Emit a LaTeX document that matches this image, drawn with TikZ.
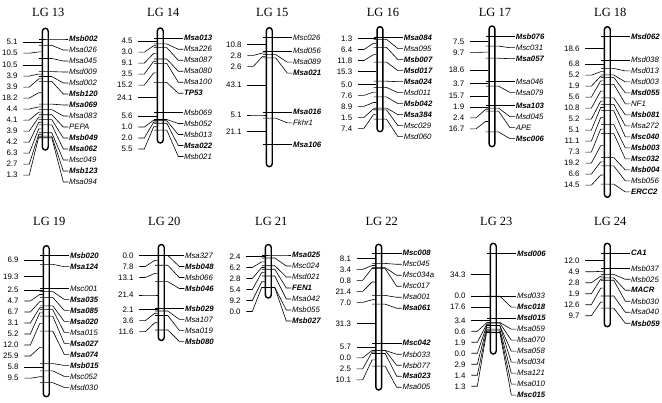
\documentclass[tikz,border=0pt]{standalone}
\usepackage{fontspec}
\setmainfont{Liberation Serif}
\newfontfamily\lsans{Liberation Sans}
\tikzset{
  chrom/.style={draw=black, line width=1.4pt, fill=white, rounded corners=2.9pt},
  conn/.style={line width=0.6pt, black},
  mk/.style={font=\fontsize{7.8}{9}\selectfont\lsans\itshape, inner sep=0.6pt},
  mkb/.style={font=\fontsize{7.8}{9}\selectfont\lsans\bfseries\itshape, inner sep=0.6pt},
  num/.style={font=\fontsize{7.9}{9}\selectfont\lsans, inner sep=0.6pt},
  ttl/.style={font=\fontsize{12.5}{14}\selectfont, inner sep=0pt},
}
% #1 id, #2 bar centre x, #3 first tick y, #4 bar top, #5 bar bottom, #6 title y, #7 px per cM, #8 list
\newcommand\drawLG[8]{%
  \node[ttl] (T#1) at (#2+3,#6) {LG #1};
  \draw[chrom] (#2-2.9,#4) rectangle (#2+2.9,#5);
  \xdef\cum{0}\xdef\prevl{-100}\xdef\prevt{0}\xdef\prevn{-100}%
  \foreach \d/\txt/\st [count=\i] in {#8} {%
    \pgfmathsetmacro\tcum{\cum+\d}%
    \pgfmathsetmacro\ty{#3+#7*\tcum}%
    \pgfmathsetmacro\ly{max(\ty,\prevl+11)}%
    \coordinate (t#1-\i) at (#2-6.5,\ty);
    \node[\st,anchor=west] (m#1-\i) at (#2+23,\ly) {\txt};
    \draw[conn] (t#1-\i) -- ++(13,0) -- ([xshift=-5pt]m#1-\i.west) -- (m#1-\i.west);
    \ifnum\i>1
      \pgfmathsetmacro\my{(\prevt+\ty)/2}%
      \pgfmathsetmacro\ny{max(\my,\prevn+11)}%
      \coordinate (a#1-\i) at (#2-3.6,\my);
      \coordinate (s#1-\i) at (#2-22,\ny);
      \node[num,anchor=east] (n#1-\i) at ([xshift=-5pt]s#1-\i) {\d};
      \draw[conn] (s#1-\i) -- ++(6,0) -- ([xshift=-3pt]a#1-\i) -- (a#1-\i);
      \xdef\prevn{\ny}%
    \fi
    \xdef\cum{\tcum}\xdef\prevl{\ly}\xdef\prevt{\ty}%
  }%
}
\begin{document}
\begin{tikzpicture}[x=1pt,y=-1pt]
\useasboundingbox (0,0) rectangle (662,403);
\fill[white] (0,0) rectangle (662,403);
\drawLG{13}{45.3}{39}{28.3}{150}{12}{1.25}{0/Msb002/mkb, 5.1/Msa026/mk, 10.5/Msa045/mk, 10.5/Msd009/mk, 3.9/Msd002/mk, 3.9/Msb120/mkb, 18.2/Msa069/mkb, 4.4/Msa083/mk, 4.1/PEPA/mk, 3.9/Msb049/mkb, 4.2/Msa062/mkb, 6.3/Msc049/mk, 2.7/Msb123/mkb, 1.3/Msa094/mk}
\drawLG{14}{160.3}{38.3}{28}{143}{12}{1.25}{0/Msa013/mkb, 4.5/Msa226/mk, 3.0/Msa087/mk, 9.1/Msa080/mk, 3.5/Msa100/mk, 15.2/TP53/mkb, 24.1/Msb069/mk, 5.6/Msb052/mk, 1.0/Msb013/mk, 2.0/Msa022/mkb, 5.5/Msb021/mk}
\drawLG{15}{269.3}{37.7}{27.7}{166.7}{12}{1.25}{0/Msc026/mk, 10.8/Msd056/mk, 2.8/Msa089/mk, 2.6/Msa021/mkb, 43.1/Msa016/mkb, 5.1/Fkhr1/mk, 21.1/Msa106/mkb}
\drawLG{16}{380}{37.7}{26.7}{131.7}{12}{1.25}{0/Msa084/mkb, 1.3/Msa095/mk, 6.4/Msb007/mkb, 11.8/Msd017/mkb, 15.3/Msa024/mkb, 5.0/Msd011/mk, 7.6/Msb042/mkb, 8.9/Msa384/mkb, 1.5/Msc029/mk, 7.4/Msd060/mk}
\drawLG{17}{492}{36.7}{26}{146.7}{12}{1.25}{0/Msb076/mkb, 7.5/Msc031/mk, 9.7/Msa057/mkb, 18.6/Msa046/mk, 3.7/Msa079/mk, 15.7/Msa103/mkb, 1.9/Msd045/mk, 2.4/APE/mk, 16.7/Msc006/mkb}
\drawLG{18}{607.3}{36.7}{26.7}{197.3}{12}{1.25}{0/Msd062/mkb, 18.6/Msd038/mk, 6.8/Msd013/mk, 5.2/Msd003/mk, 1.9/Msd055/mkb, 5.6/NF1/mk, 10.8/Msb081/mkb, 5.2/Msa272/mk, 5.1/Msc040/mkb, 11.1/Msb003/mkb, 7.3/Msc032/mkb, 19.2/Msb004/mkb, 6.6/Msb056/mk, 14.5/ERCC2/mkb}
\drawLG{19}{46.3}{255.7}{245.7}{396.7}{221.7}{1.25}{0/Msb020/mkb, 6.9/Msa124/mkb, 19.3/Msc001/mk, 2.5/Msa035/mkb, 4.7/Msa085/mkb, 6.7/Msa020/mkb, 3.1/Msa015/mk, 5.2/Msa027/mkb, 12.0/Msa074/mkb, 25.9/Msb015/mkb, 5.8/Msc052/mk, 9.5/Msd030/mk}
\drawLG{20}{161.3}{255.5}{244.5}{340.5}{221.7}{1.25}{0/Msa327/mk, 0.0/Msb048/mkb, 7.8/Msb066/mk, 13.1/Msb046/mkb, 21.4/Msb029/mkb, 2.1/Msa107/mk, 3.6/Msa019/mk, 11.6/Msb080/mkb}
\drawLG{21}{268.3}{255}{244.5}{298}{221.7}{1.25}{0/Msa025/mkb, 2.4/Msc024/mk, 6.2/Msd021/mk, 2.8/FEN1/mkb, 5.4/Msa042/mk, 9.2/Msb055/mk, 0.0/Msb027/mkb}
\drawLG{22}{378.7}{253.3}{244.3}{390}{221.7}{1.25}{0/Msc008/mkb, 8.1/Msc045/mk, 3.4/Msc034a/mk, 0.8/Msc017/mk, 21.4/Msa001/mk, 7.0/Msa061/mkb, 31.3/Msc042/mkb, 5.7/Msb033/mk, 0.0/Msb077/mk, 2.5/Msa023/mkb, 10.1/Msa005/mk}
\drawLG{23}{493.3}{253.3}{243.3}{354}{221.7}{1.25}{0/Msd006/mkb, 34.3/Msd033/mk, 0.0/Msc018/mkb, 17.6/Msd015/mkb, 3.4/Msa059/mk, 0.6/Msa070/mk, 1.9/Msa058/mk, 0.0/Msd034/mk, 2.9/Msa121/mk, 1.4/Msa010/mk, 1.3/Msc015/mkb}
\drawLG{24}{607.3}{253.3}{243.3}{326.7}{221.7}{1.25}{0/CA1/mkb, 12.0/Msb037/mk, 4.9/Msb025/mk, 2.8/MACR/mkb, 1.9/Msb030/mk, 12.6/Msa040/mk, 9.7/Msb059/mkb}
\end{tikzpicture}
\end{document}
